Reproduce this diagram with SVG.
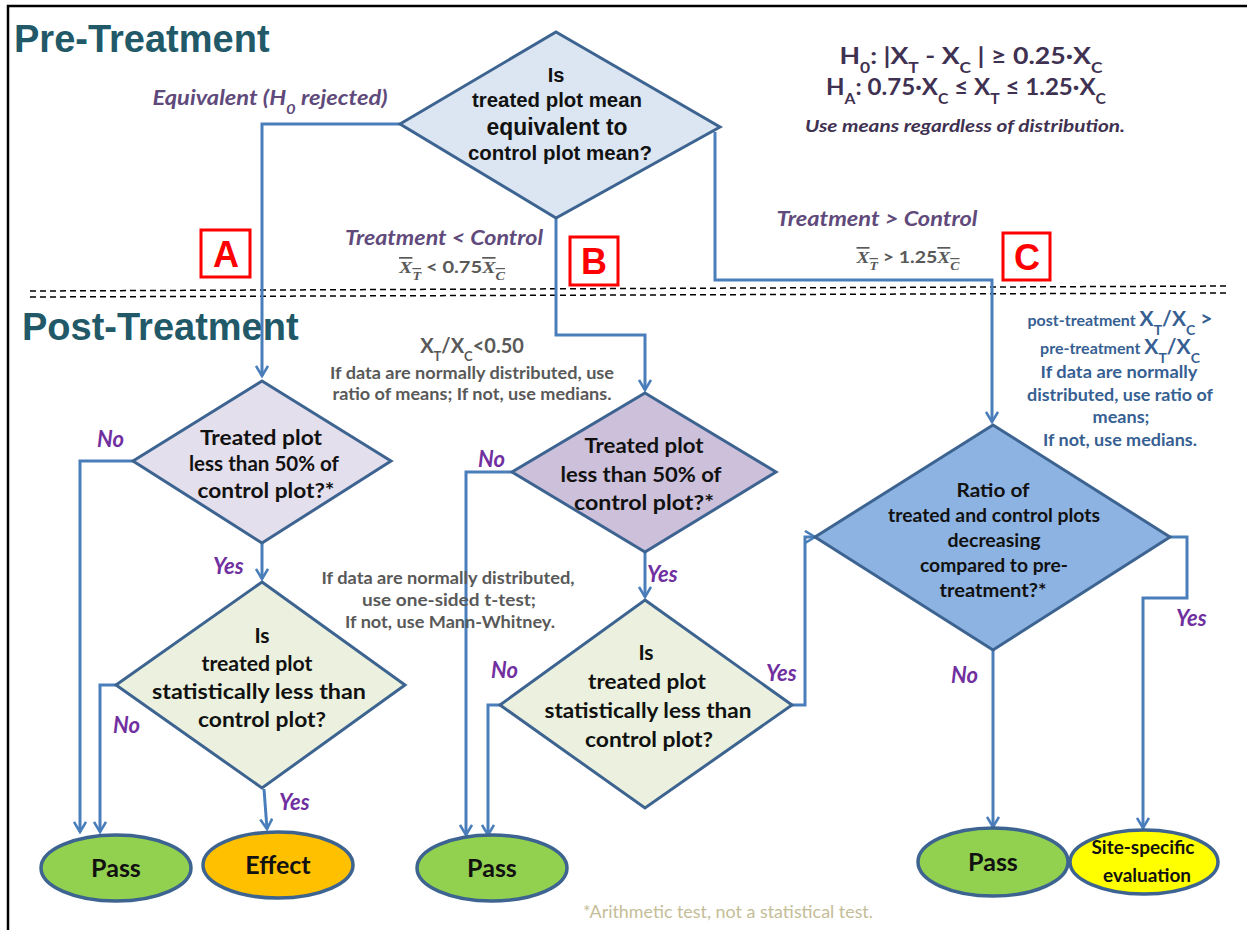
<svg xmlns="http://www.w3.org/2000/svg" width="1247" height="930" viewBox="0 0 1247 930">
<style>
.title{font-family:"Liberation Sans",Arial,sans-serif;font-weight:bold;font-size:38px;fill:#215968}
.dia{stroke:#3d6491;stroke-width:3}
.q{font-family:Lato,"Open Sans",sans-serif;font-weight:bold;fill:#111;text-anchor:middle}
.qa{font-family:"Liberation Sans",Arial,sans-serif;font-weight:bold;fill:#111;text-anchor:middle}
.yn{font-family:Lato,"Open Sans",sans-serif;font-weight:bold;font-style:italic;font-size:22px;fill:#7030a0}
.br{font-family:Lato,"Open Sans",sans-serif;font-weight:bold;font-style:italic;font-size:20px;fill:#604a7b;text-anchor:middle}
.note{font-family:Lato,"Open Sans",sans-serif;font-weight:bold;font-size:17px;fill:#595959;text-anchor:middle}
.rnote{font-family:Lato,"Open Sans",sans-serif;font-weight:bold;font-size:17.5px;fill:#376092;text-anchor:middle}
.hyp{font-family:Lato,"Open Sans",sans-serif;font-weight:bold;font-size:23px;fill:#3f3151;text-anchor:middle}
.conn{fill:none;stroke:#4a7ebb;stroke-width:3;marker-end:url(#arr)}
.box{fill:#fff;stroke:#ff0000;stroke-width:3}
.boxt{font-family:"Liberation Sans",Arial,sans-serif;font-weight:bold;font-size:36px;fill:#ff0000;text-anchor:middle}
.oval{stroke:#3d6491;stroke-width:3.5}
.ot{font-family:Lato,"Open Sans",sans-serif;font-weight:bold;font-size:25px;fill:#111;text-anchor:middle}
.mx{font-family:"Liberation Serif",serif;font-style:italic}
</style>
<defs>
<marker id="arr" viewBox="0 0 14 14" refX="12" refY="7" markerWidth="14" markerHeight="14" markerUnits="userSpaceOnUse" orient="auto">
<path d="M2,1 L12,7 L2,13" fill="none" stroke="#4a7ebb" stroke-width="2.6"/>
</marker>
</defs>
<rect width="1247" height="930" fill="#fff"/>
<path d="M8,930 L8,6 L1247,6" fill="none" stroke="#000" stroke-width="2.5"/>

<text class="title" x="14" y="52">Pre-Treatment</text>
<text class="title" x="22" y="340">Post-Treatment</text>

<g id="divider" stroke="#000" stroke-width="1.5" stroke-dasharray="6,4">
<line x1="30" y1="291" x2="1230" y2="286"/>
<line x1="30" y1="297" x2="1230" y2="293"/>
</g>

<g id="connectors">
<path class="conn" d="M400,124 L262,124 L262,376"/>
<path class="conn" d="M556,218 L556,335 L645,335 L645,390"/>
<path class="conn" d="M715,132 L715,280 L992,280 L992,422"/>
<path class="conn" d="M262,543 L262,579"/>
<path class="conn" d="M133,461 L80,461 L80,832"/>
<path class="conn" d="M116,685 L100,685 L100,832"/>
<path class="conn" d="M264,789 L267,829"/>
<path class="conn" d="M512,472 L466,472 L466,835"/>
<path class="conn" d="M500,705 L488,705 L488,835"/>
<path class="conn" d="M645,552 L645,597"/>
<path class="conn" d="M792,705 L805,705 L805,537 L815,537"/>
<path class="conn" d="M993,650 L993,827"/>
<path class="conn" d="M1170,537 L1187,537 L1187,598 L1143,598 L1143,828"/>
</g>

<g id="labels">
<text class="br" x="270" y="105" textLength="235" lengthAdjust="spacingAndGlyphs">Equivalent (H<tspan font-size="14" baseline-shift="sub">0</tspan> rejected)</text>
<text class="br" x="444" y="245" textLength="198" lengthAdjust="spacingAndGlyphs">Treatment &lt; Control</text>
<text class="note" x="452" y="273" textLength="106" lengthAdjust="spacingAndGlyphs"><tspan class="mx" text-decoration="overline">X<tspan font-size="12" baseline-shift="sub">T</tspan></tspan> &lt; 0.75<tspan class="mx" text-decoration="overline">X<tspan font-size="12" baseline-shift="sub">C</tspan></tspan></text>
<text class="br" x="877" y="226" textLength="201" lengthAdjust="spacingAndGlyphs">Treatment &gt; Control</text>
<text class="note" x="908" y="263" textLength="103" lengthAdjust="spacingAndGlyphs"><tspan class="mx" text-decoration="overline">X<tspan font-size="12" baseline-shift="sub">T</tspan></tspan> &gt; 1.25<tspan class="mx" text-decoration="overline">X<tspan font-size="12" baseline-shift="sub">C</tspan></tspan></text>
<text class="hyp" x="971" y="64" textLength="263" lengthAdjust="spacingAndGlyphs">H<tspan font-size="15" baseline-shift="sub">0</tspan>: |X<tspan font-size="15" baseline-shift="sub">T</tspan> - X<tspan font-size="15" baseline-shift="sub">C</tspan> | ≥ 0.25·X<tspan font-size="15" baseline-shift="sub">C</tspan></text>
<text class="hyp" x="966" y="95" textLength="280" lengthAdjust="spacingAndGlyphs">H<tspan font-size="15" baseline-shift="sub">A</tspan>: 0.75·X<tspan font-size="15" baseline-shift="sub">C</tspan> ≤ X<tspan font-size="15" baseline-shift="sub">T</tspan> ≤ 1.25·X<tspan font-size="15" baseline-shift="sub">C</tspan></text>
<text class="br" x="965" y="132" style="font-size:17px;fill:#3f3151" textLength="320" lengthAdjust="spacingAndGlyphs">Use means regardless of distribution.</text>
<text class="note" x="472" y="353" style="font-size:20px">X<tspan font-size="13" baseline-shift="sub">T</tspan>/X<tspan font-size="13" baseline-shift="sub">C</tspan>&lt;0.50</text>
<text class="note" x="472" y="379" textLength="284" lengthAdjust="spacingAndGlyphs">If data are normally distributed, use</text>
<text class="note" x="472" y="400" textLength="279" lengthAdjust="spacingAndGlyphs">ratio of means; If not, use medians.</text>
<text class="note" x="448" y="584" textLength="253" lengthAdjust="spacingAndGlyphs">If data are normally distributed,</text>
<text class="note" x="449" y="606" textLength="174" lengthAdjust="spacingAndGlyphs">use one-sided t-test;</text>
<text class="note" x="450" y="628" textLength="210" lengthAdjust="spacingAndGlyphs">If not, use Mann-Whitney.</text>
<text class="rnote" x="1120" y="326" style="font-size:16px">post-treatment <tspan font-size="21">X<tspan font-size="14" baseline-shift="sub">T</tspan>/X<tspan font-size="14" baseline-shift="sub">C</tspan> &gt;</tspan></text>
<text class="rnote" x="1120" y="354" style="font-size:16px">pre-treatment <tspan font-size="21">X<tspan font-size="14" baseline-shift="sub">T</tspan>/X<tspan font-size="14" baseline-shift="sub">C</tspan></tspan></text>
<text class="rnote" x="1119" y="378" textLength="157" lengthAdjust="spacingAndGlyphs">If data are normally</text>
<text class="rnote" x="1120" y="401" textLength="186" lengthAdjust="spacingAndGlyphs">distributed, use ratio of</text>
<text class="rnote" x="1121" y="423" textLength="57" lengthAdjust="spacingAndGlyphs">means;</text>
<text class="rnote" x="1120" y="446" textLength="154" lengthAdjust="spacingAndGlyphs">If not, use medians.</text>
<text class="yn" x="97" y="447">No</text>
<text class="yn" x="213" y="574">Yes</text>
<text class="yn" x="113" y="733">No</text>
<text class="yn" x="279" y="810">Yes</text>
<text class="yn" x="478" y="467">No</text>
<text class="yn" x="647" y="582">Yes</text>
<text class="yn" x="491" y="678">No</text>
<text class="yn" x="766" y="681">Yes</text>
<text class="yn" x="951" y="683">No</text>
<text class="yn" x="1176" y="626">Yes</text>
<text x="728" y="918" style="font-family:Lato,'Open Sans',sans-serif;font-size:17px;fill:#c4bd97;text-anchor:middle" textLength="290" lengthAdjust="spacingAndGlyphs">*Arithmetic test, not a statistical test.</text>
</g>

<g id="boxA"><rect class="box" x="201" y="230" width="49" height="47"/><text class="boxt" x="226" y="267">A</text></g>
<g id="boxB"><rect class="box" x="570" y="237" width="48" height="48"/><text class="boxt" x="594" y="274">B</text></g>
<g id="boxC"><rect class="box" x="1003" y="233" width="47" height="47"/><text class="boxt" x="1027" y="270">C</text></g>

<g id="q-equivalent">
<polygon class="dia" points="556,32 720,127 556,218 400,124" fill="#dce6f2"/>
<text class="qa" x="556" y="82" font-size="20">Is</text>
<text class="qa" x="557" y="107" font-size="20" textLength="170" lengthAdjust="spacingAndGlyphs">treated plot mean</text>
<text class="qa" x="557" y="135" font-size="23" textLength="141" lengthAdjust="spacingAndGlyphs">equivalent to</text>
<text class="qa" x="560" y="160" font-size="20" textLength="184" lengthAdjust="spacingAndGlyphs">control plot mean?</text>
</g>

<g id="q-A-50">
<polygon class="dia" points="262,381 391,461 262,543 133,461" fill="#e4dfec"/>
<text class="q" x="261" y="445" font-size="21" textLength="122" lengthAdjust="spacingAndGlyphs">Treated plot</text>
<text class="q" x="264" y="471" font-size="21" textLength="150" lengthAdjust="spacingAndGlyphs">less than 50% of</text>
<text class="q" x="266" y="498" font-size="21" textLength="137" lengthAdjust="spacingAndGlyphs">control plot?*</text>
</g>

<g id="q-B-50">
<polygon class="dia" points="645,393 776,472 645,552 512,472" fill="#ccc0da"/>
<text class="q" x="644" y="453" font-size="21" textLength="119" lengthAdjust="spacingAndGlyphs">Treated plot</text>
<text class="q" x="641" y="482" font-size="21" textLength="161" lengthAdjust="spacingAndGlyphs">less than 50% of</text>
<text class="q" x="644" y="510" font-size="21" textLength="140" lengthAdjust="spacingAndGlyphs">control plot?*</text>
</g>

<g id="q-C-ratio">
<polygon class="dia" points="993,425 1170,537 993,650 815,537" fill="#8db3e2"/>
<text class="q" x="993" y="497" font-size="19" textLength="73" lengthAdjust="spacingAndGlyphs">Ratio of</text>
<text class="q" x="994" y="522" font-size="19" textLength="212" lengthAdjust="spacingAndGlyphs">treated and control plots</text>
<text class="q" x="994" y="547" font-size="19" textLength="93" lengthAdjust="spacingAndGlyphs">decreasing</text>
<text class="q" x="994" y="572" font-size="19" textLength="148" lengthAdjust="spacingAndGlyphs">compared to pre-</text>
<text class="q" x="993" y="597" font-size="19" textLength="107" lengthAdjust="spacingAndGlyphs">treatment?*</text>
</g>

<g id="q-A-stat">
<polygon class="dia" points="262,582 405,685 262,788 116,685" fill="#ebf1de"/>
<text class="q" x="262" y="643" font-size="21">Is</text>
<text class="q" x="257" y="671" font-size="21" textLength="111" lengthAdjust="spacingAndGlyphs">treated plot</text>
<text class="q" x="259" y="699" font-size="21" textLength="214" lengthAdjust="spacingAndGlyphs">statistically less than</text>
<text class="q" x="262" y="727" font-size="21" textLength="128" lengthAdjust="spacingAndGlyphs">control plot?</text>
</g>

<g id="q-B-stat">
<polygon class="dia" points="645,600 792,705 645,808 500,705" fill="#ebf1de"/>
<text class="q" x="646" y="660" font-size="21">Is</text>
<text class="q" x="647" y="689" font-size="21" textLength="118" lengthAdjust="spacingAndGlyphs">treated plot</text>
<text class="q" x="648" y="718" font-size="21" textLength="207" lengthAdjust="spacingAndGlyphs">statistically less than</text>
<text class="q" x="649" y="747" font-size="21" textLength="128" lengthAdjust="spacingAndGlyphs">control plot?</text>
</g>

<g id="pass-A"><ellipse class="oval" cx="116" cy="868" rx="75" ry="33" fill="#92d050"/><text class="ot" x="116" y="877">Pass</text></g>
<g id="effect-A"><ellipse class="oval" cx="278" cy="865" rx="75" ry="33" fill="#ffc000"/><text class="ot" x="278" y="874">Effect</text></g>
<g id="pass-B"><ellipse class="oval" cx="492" cy="868" rx="75" ry="33" fill="#92d050"/><text class="ot" x="492" y="877">Pass</text></g>
<g id="pass-C"><ellipse class="oval" cx="993" cy="862" rx="75" ry="34" fill="#92d050"/><text class="ot" x="993" y="871">Pass</text></g>
<g id="site-C"><ellipse class="oval" cx="1144" cy="862" rx="74" ry="32" fill="#ffff00"/>
<text class="q" x="1143" y="854" font-size="19" textLength="103" lengthAdjust="spacingAndGlyphs">Site-specific</text>
<text class="q" x="1147" y="882" font-size="19" textLength="88" lengthAdjust="spacingAndGlyphs">evaluation</text></g>
</svg>
